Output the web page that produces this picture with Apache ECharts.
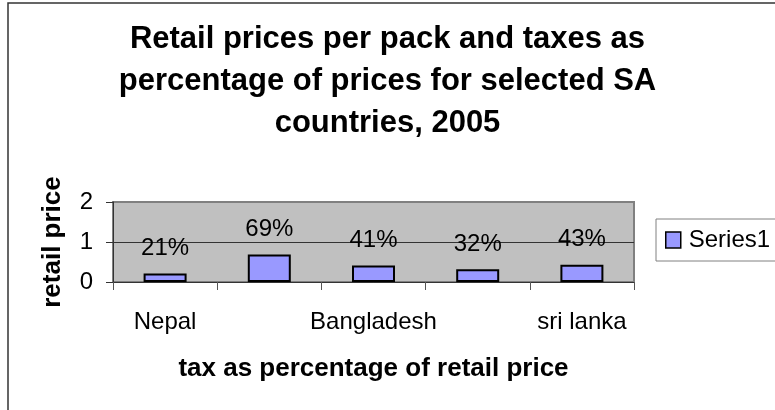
<!DOCTYPE html>
<html>
<head>
<meta charset="utf-8">
<script src="https://cdn.jsdelivr.net/npm/echarts@6/dist/echarts.min.js"></script>
<style>
  html, body { margin: 0; padding: 0; background: #fff; }
  #chart { width: 775px; height: 410px; }
</style>
</head>
<body>
<div id="chart"></div>
<script>
// Countries along the category axis (every other name is shown)
const countries = ['Nepal', 'India', 'Bangladesh', 'Pakistan', 'sri lanka'];
// Retail price per pack; the label shows the same value as a tax percentage
const retailPrice = [0.21, 0.69, 0.41, 0.32, 0.43];
const yTicks = { min: 0, max: 2, step: 1 };
const seriesName = 'Series1';

const FONT = "'Liberation Sans', Arial, sans-serif";

const chart = echarts.init(document.getElementById('chart'), null, { renderer: 'canvas' });

chart.setOption({
  backgroundColor: '#ffffff',
  animation: false,
  title: {
    text: 'Retail prices per pack and taxes as\npercentage of prices for selected SA\ncountries, 2005',
    left: 'center',
    top: 18,
    padding: [0, 0, 0, 28],
    textStyle: {
      fontFamily: FONT,
      fontSize: 31,
      fontWeight: 'bold',
      color: '#000',
      lineHeight: 42
    }
  },
  graphic: [{
    type: 'rect',
    shape: { x: 8, y: 3, width: 800, height: 420 },
    style: { fill: 'none', stroke: '#333', lineWidth: 1.5 },
    silent: true,
    z: 100
  }],
  legend: {
    data: [seriesName],
    left: 656,
    top: 219,
    orient: 'vertical',
    padding: [9, 30, 9, 9],
    borderColor: '#808080',
    borderWidth: 1,
    icon: 'rect',
    itemWidth: 15,
    itemHeight: 16,
    itemStyle: { borderColor: '#000', borderWidth: 1.5 },
    textStyle: { fontFamily: FONT, fontSize: 24, color: '#000', padding: [0, 0, 0, 3] }
  },
  grid: {
    left: 113,
    right: 141,
    top: 202,
    bottom: 128,
    show: true,
    backgroundColor: '#c0c0c0',
    borderColor: '#808080',
    borderWidth: 2
  },
  xAxis: {
    type: 'category',
    data: countries,
    name: 'tax as percentage of retail price',
    nameLocation: 'middle',
    nameGap: 74,
    nameTextStyle: { fontFamily: FONT, fontSize: 26, fontWeight: 'bold', color: '#000' },
    axisLine: { lineStyle: { color: '#333', width: 1 } },
    axisTick: { show: true, interval: 0, length: 8, lineStyle: { color: '#555', width: 1 } },
    axisLabel: { interval: 1, margin: 28, fontFamily: FONT, fontSize: 24, color: '#000' },
    splitLine: { show: false }
  },
  yAxis: {
    type: 'value',
    min: yTicks.min,
    max: yTicks.max,
    interval: yTicks.step,
    name: 'retail price',
    nameLocation: 'middle',
    nameGap: 47,
    nameTextStyle: { fontFamily: FONT, fontSize: 26, fontWeight: 'bold', color: '#000' },
    axisLine: { show: true, lineStyle: { color: '#333', width: 1 } },
    axisTick: { show: true, length: 7, lineStyle: { color: '#333', width: 1 } },
    axisLabel: { margin: 20, fontFamily: FONT, fontSize: 24, color: '#000' },
    splitLine: { show: true, lineStyle: { color: ['#333', '#333', '#808080'], width: 1 } }
  },
  series: [{
    name: seriesName,
    type: 'bar',
    data: retailPrice,
    barWidth: 43,
    itemStyle: { color: '#9999ff', borderColor: '#000', borderWidth: 2 },
    label: {
      show: true,
      position: 'top',
      distance: 13,
      fontFamily: FONT,
      fontSize: 24,
      color: '#000',
      formatter: p => Math.round(p.value * 100) + '%'
    }
  }]
});
</script>
</body>
</html>
